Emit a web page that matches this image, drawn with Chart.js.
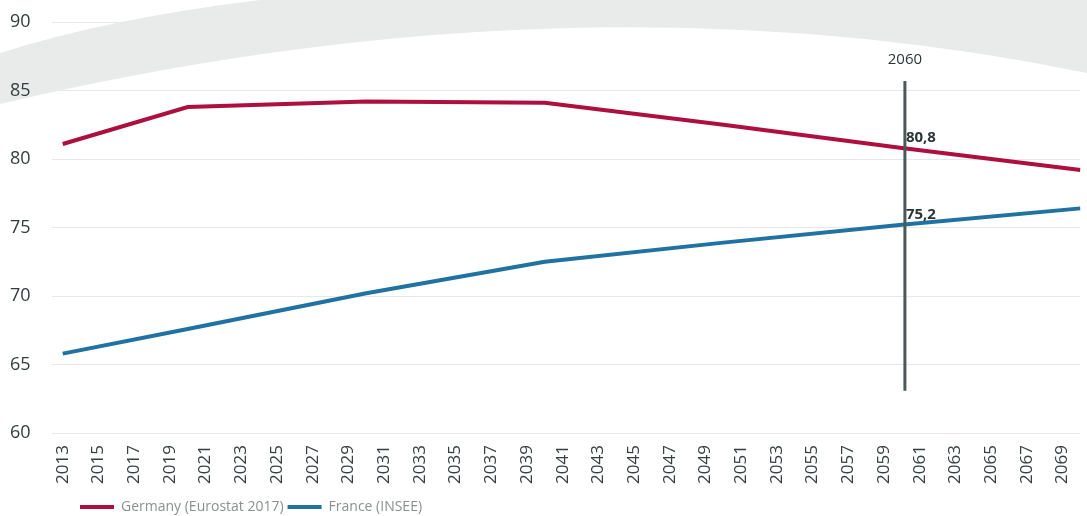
<!DOCTYPE html>
<html lang="en">
<head>
<meta charset="UTF-8">
<title>Germany / France</title>
<style>
  body { margin: 0; background: #fff; }
  #wrap { width: 1087px; height: 516px; }
</style>
</head>
<body>
<div id="wrap"><canvas id="myChart"></canvas></div>

<script src="https://cdn.jsdelivr.net/npm/chart.js"></script>
<script>
    // values
    const v_years = [2013, 2020, 2030, 2040, 2050, 2060, 2070];
    const v_germany = [81.1, 83.8, 84.2, 84.1, 82.5, 80.8, 79.2];
    const v_france = [65.8, 67.6, 70.2, 72.5, 73.9, 75.2, 76.4];

    const v_xTicks = [2013, 2015, 2017, 2019, 2021, 2023, 2025, 2027, 2029, 2031,
        2033, 2035, 2037, 2039, 2041, 2043, 2045, 2047, 2049, 2051,
        2053, 2055, 2057, 2059, 2061, 2063, 2065, 2067, 2069];
    const v_yTicks = [60, 65, 70, 75, 80, 85, 90];

    // the 2060 marker and its two labels
    const v_markYear = 2060;
    const v_markValues = [80.8, 75.2];
    const v_markRange = [63.1, 85.7];

    const v_font = "'Open Sans', 'DejaVu Sans', sans-serif";

    function toPoints(arr) {
        let v_out = [];
        for (let i = 0; i < v_years.length; i++) {
            v_out.push({ x: v_years[i], y: arr[i] });
        }
        return v_out;
    }

    // grey swoosh behind the plot (decoration only)
    const swoosh = {
        id: "swoosh",
        beforeDraw(chart) {
            const c = chart.ctx;
            const w = chart.width;
            c.save();
            c.fillStyle = "#e8ebea";
            c.beginPath();
            c.moveTo(0, 53);
            c.quadraticCurveTo(110, 18, 260, 0);
            c.lineTo(w, 0);
            c.lineTo(w, 73);
            c.quadraticCurveTo(576, -32, 0, 104);
            c.closePath();
            c.fill();
            c.restore();
        }
    };

    // vertical line at 2060 with the value labels
    const marker = {
        id: "marker",
        afterDatasetsDraw(chart) {
            const c = chart.ctx;
            const xs = chart.scales.x;
            const ys = chart.scales.y;
            const px = xs.getPixelForValue(v_markYear) + 3;
            c.save();
            c.strokeStyle = "#4a5858";
            c.lineWidth = 3;
            c.beginPath();
            c.moveTo(px, ys.getPixelForValue(v_markRange[1]));
            c.lineTo(px, ys.getPixelForValue(v_markRange[0]));
            c.stroke();

            c.fillStyle = "#2b3535";
            c.font = "15px " + v_font;
            c.textAlign = "center";
            c.textBaseline = "bottom";
            c.fillText(String(v_markYear), px, ys.getPixelForValue(v_markRange[1]) - 14);

            c.font = "bold 15px " + v_font;
            c.textAlign = "left";
            for (let i = 0; i < v_markValues.length; i++) {
                let v_txt = v_markValues[i].toFixed(1).replace(".", ",");
                c.fillText(v_txt, px + 1, ys.getPixelForValue(v_markValues[i]) - 3);
            }
            c.restore();
        }
    };

    // legend sits further right and lower than chart.js puts it
    const legendShift = {
        id: "legendShift",
        afterLayout(chart) {
            chart.legend.left += 66;
            chart.legend.right += 66;
            chart.legend.top += 8;
            chart.legend.bottom += 8;
        }
    };

    const ctx = document.getElementById("myChart");

    new Chart(ctx, {
        type: "line",
        data: {
            datasets: [
                {
                    label: "Germany (Eurostat 2017)",
                    data: toPoints(v_germany),
                    borderColor: "#ad0f3e",
                    backgroundColor: "#ad0f3e",
                    borderWidth: 4,
                    pointRadius: 0,
                    pointStyle: "line",
                    tension: 0
                },
                {
                    label: "France (INSEE)",
                    data: toPoints(v_france),
                    borderColor: "#1f72a2",
                    backgroundColor: "#1f72a2",
                    borderWidth: 4,
                    pointRadius: 0,
                    pointStyle: "line",
                    tension: 0
                }
            ]
        },
        options: {
            responsive: true,
            maintainAspectRatio: false,
            animation: false,
            layout: {
                padding: { top: 22, right: 0, bottom: 0, left: 10 }
            },
            scales: {
                x: {
                    type: "linear",
                    min: 2012.4,
                    max: 2070,
                    afterBuildTicks: (s) => { s.ticks = v_xTicks.map(v => ({ value: v })); },
                    grid: { display: false },
                    border: { display: false },
                    ticks: {
                        autoSkip: false,
                        minRotation: 90,
                        maxRotation: 90,
                        padding: 4,
                        color: "#354141",
                        font: { family: v_font, size: 17 },
                        callback: (v) => String(v)
                    }
                },
                y: {
                    min: 60,
                    max: 90,
                    afterBuildTicks: (s) => { s.ticks = v_yTicks.map(v => ({ value: v })); },
                    afterFit: (s) => { s.width = 42; },
                    grid: { color: "#e6e9e9", drawTicks: false },
                    border: { display: false },
                    ticks: {
                        padding: 2,
                        crossAlign: "far",
                        color: "#333d3d",
                        font: { family: v_font, size: 18 }
                    }
                }
            },
            plugins: {
                legend: {
                    position: "bottom",
                    align: "start",
                    labels: {
                        usePointStyle: true,
                        pointStyleWidth: 34,
                        padding: 4,
                        color: "#8a9090",
                        font: { family: v_font, size: 14 }
                    }
                },
                tooltip: { enabled: false }
            }
        },
        plugins: [swoosh, marker, legendShift]
    });
</script>
</body>
</html>
